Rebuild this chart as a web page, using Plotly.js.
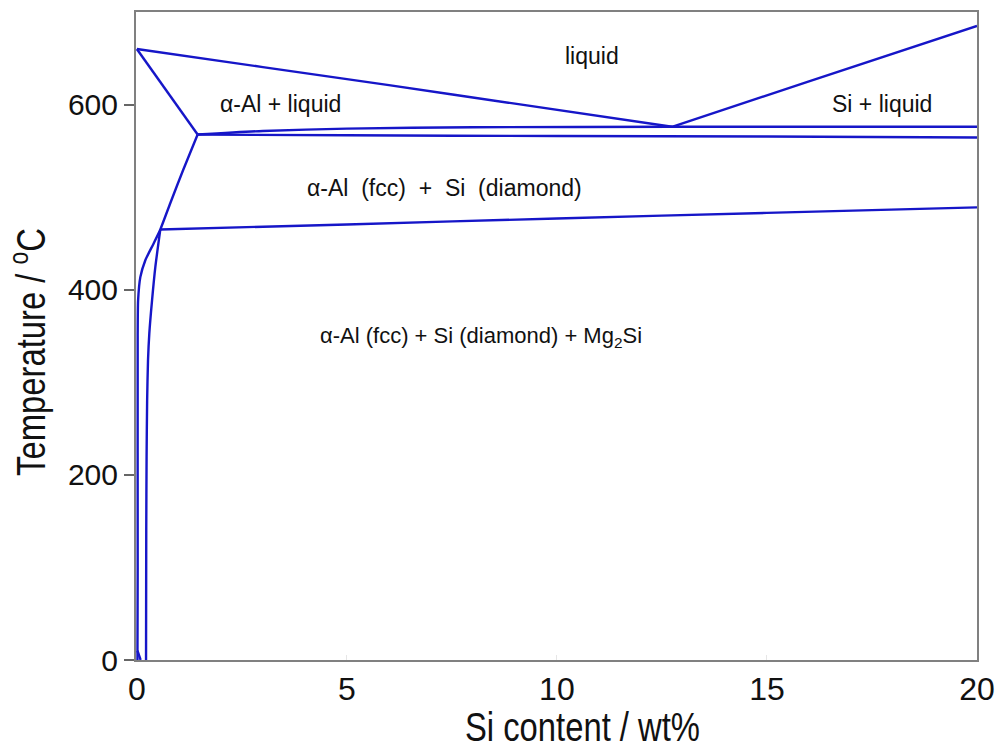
<!DOCTYPE html>
<html>
<head>
<meta charset="utf-8">
<script src="https://cdn.plot.ly/plotly-3.0.1.min.js"></script>
<style>body{margin:0;padding:0;background:#fff;}#chart{width:1001px;height:749px;}</style>
</head>
<body>
<div id="chart"></div>
<script>
// Al-side liquidus
const liqAlX = [0, 3, 6, 9, 12.74];
const liqAlT = [660, 640.5, 621, 601, 576];
// Si-side liquidus
const liqSiX = [12.74, 16, 20];
const liqSiT = [576, 625, 685];
// alpha-Al solidus
const solX = [0, 1.447];
const solT = [660, 567.6];
// upper eutectic line
const eutUpX = [1.447, 3, 5, 8, 12.74, 20];
const eutUpT = [567.6, 571.5, 574, 575.5, 576, 576];
// lower eutectic line
const eutLoX = [1.447, 5, 10, 15, 20];
const eutLoT = [567.6, 566.8, 566, 565.5, 564.5];
// Si solvus in alpha-Al
const solvAX = [1.447, 1.1, 0.8, 0.559, 0.40, 0.20, 0.083, 0.03, 0.02, 0.02, 0.015, 0.015];
const solvAT = [567.6, 529, 494, 465.1, 450, 431.6, 413.6, 388.5, 350, 100, 10, 0];
const tailX = [0.015, 0.09];
const tailT = [10, 0];
// Mg2Si solvus
const solvBX = [0.559, 0.44, 0.362, 0.297, 0.266, 0.245, 0.232, 0.224, 0.219];
const solvBT = [465.1, 424.4, 388.5, 352.9, 323.7, 280, 220, 140, 0];
// Mg2Si three-phase line
const mgLineX = [0.559, 5, 10, 15, 20];
const mgLineT = [465.1, 470.5, 477, 483, 489];

const xTicks = [0, 5, 10, 15, 20];
const yTicks = [0, 200, 400, 600];

const NB = '\u00A0';
const labelTexts = [
  'liquid',
  'α-Al + liquid',
  'Si + liquid',
  'α-Al' + NB + ' (fcc)' + NB + ' +' + NB + ' Si' + NB + ' (diamond)',
  'α-Al (fcc) + Si (diamond) + Mg<sub>2</sub>Si'
];
const labelX = [10.84, 3.41, 17.74, 7.32, 8.2];
const labelT = [652, 601, 601, 510, 348.5];

const lineColor = 'rgb(22,22,200)';
const series = [
  [liqAlX, liqAlT], [liqSiX, liqSiT], [solX, solT], [eutUpX, eutUpT], [eutLoX, eutLoT],
  [solvAX, solvAT], [tailX, tailT], [solvBX, solvBT], [mgLineX, mgLineT]
];
const traces = series.map(s => ({
  x: s[0], y: s[1], type: 'scatter', mode: 'lines',
  line: {color: lineColor, width: 2.4, shape: 'spline', smoothing: 0.6}, hoverinfo: 'skip', showlegend: false
}));

const annotations = labelTexts.map((t, i) => ({
  x: labelX[i], y: labelT[i], xref: 'x', yref: 'y', text: t, showarrow: false,
  font: {family: 'Liberation Sans, Arial, sans-serif', size: i === 4 ? 22 : 23, color: '#111'}
}));

const layout = {
  width: 1001, height: 749,
  margin: {l: 136, r: 24, t: 12, b: 89, pad: 0},
  paper_bgcolor: '#fff', plot_bgcolor: '#fff',
  showlegend: false,
  xaxis: {
    range: [-0.02, 20], tickvals: xTicks, ticktext: xTicks.map(String),
    showgrid: false, zeroline: false, showline: true, mirror: true,
    linecolor: '#808080', linewidth: 2,
    ticks: 'inside', ticklen: 5, tickcolor: '#e6e6e6', tickwidth: 1,
    tickfont: {family: 'Liberation Sans, Arial, sans-serif', size: 32, color: '#111'},
    title: {text: 'Si content / wt%', font: {family: 'Liberation Sans, Arial, sans-serif', size: 40, color: '#111'}, standoff: 8},
    automargin: false
  },
  yaxis: {
    range: [0, 700], tickvals: yTicks, ticktext: yTicks.map(String),
    showgrid: false, zeroline: false, showline: true, mirror: true,
    linecolor: '#808080', linewidth: 2,
    ticks: 'outside', ticklen: 10, tickcolor: '#666', tickwidth: 2,
    tickfont: {family: 'Liberation Sans, Arial, sans-serif', size: 30, color: '#111'},
    title: {text: 'Temperature / <sup>o</sup>C', font: {family: 'Liberation Sans, Arial, sans-serif', size: 40, color: '#111'}, standoff: 10},
    automargin: false
  },
  annotations: annotations
};

Plotly.newPlot('chart', traces, layout, {displayModeBar: false, staticPlot: true}).then(gd => {
  // condensed look of the axis titles
  const xt = gd.querySelector('text.xtitle');
  if (xt) {
    const cx = parseFloat(xt.getAttribute('x')), cy = parseFloat(xt.getAttribute('y'));
    const prev = xt.getAttribute('transform') || '';
    xt.setAttribute('transform', prev + ` translate(26,0) translate(${cx},${cy}) scale(0.82,1) translate(${-cx},${-cy})`);
  }
  const yt = gd.querySelector('text.ytitle');
  if (yt) {
    const cx = parseFloat(yt.getAttribute('x')), cy = parseFloat(yt.getAttribute('y'));
    const prev = yt.getAttribute('transform') || '';
    yt.setAttribute('transform', prev + ` translate(-16,0) translate(${cx},${cy}) scale(0.82,1) translate(${-cx},${-cy})`);
  }
});
</script>
</body>
</html>
